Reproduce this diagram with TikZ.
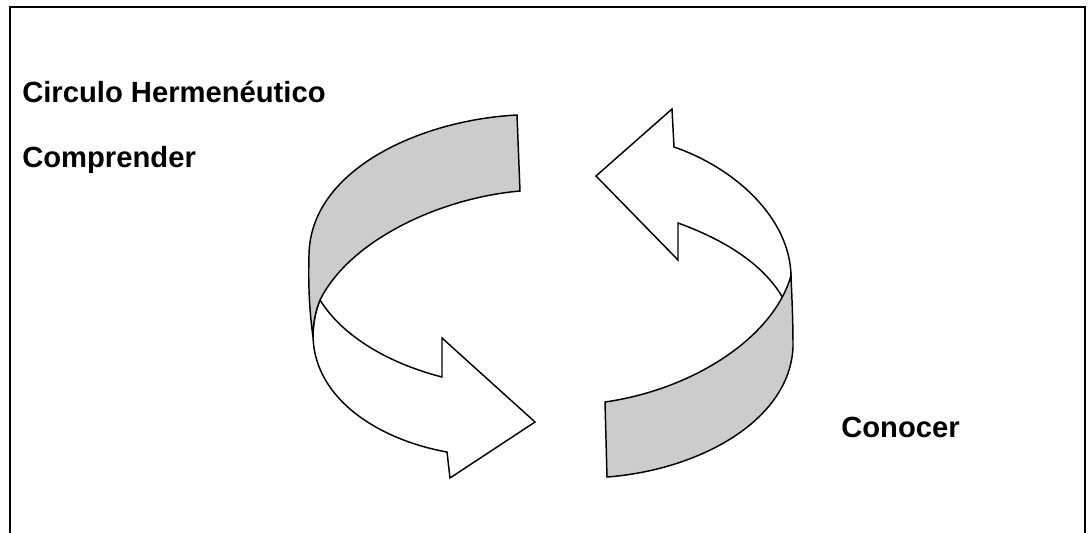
\documentclass[tikz,border=0pt]{standalone}
\usepackage{fontspec}
\setmainfont{Liberation Sans}
\definecolor{ribbon}{RGB}{204,204,204}
\begin{document}
\begin{tikzpicture}[x=0.75pt,y=-0.75pt,
  band/.style={draw=black,line width=1.1pt,line join=miter},
  backband/.style={band,fill=ribbon},
  frontband/.style={band,fill=white},
  frameline/.style={draw=black,line width=1.5pt},
  label/.style={font=\bfseries\fontsize{21.9}{26}\selectfont,anchor=base west,inner sep=0pt}]
\useasboundingbox (0,0) rectangle (1088,532);
\fill[white] (0,0) rectangle (1088,532);
% frame (bottom edge outside the picture)
\draw[frameline] (10,545) -- (10,7) -- (1085,7) -- (1085,545);
% labels
\node[label] (title) at (22,102) {Circulo Hermenéutico};
\node[label] (comp) at (22,167) {Comprender};
\node[label] (cono) at (841,437) {Conocer};
% left arrow: white front part
\draw[frontband] (320,300) .. controls (345,340) and (395,365) .. (442,377)
  -- (442,338) -- (535,422) -- (450,478) -- (447,452)
  .. controls (380,440) and (315,400) .. (313,337)
  .. controls (313,325) and (315,312) .. (320,300) -- cycle;
% left arrow: grey back part
\draw[backband] (517,115) .. controls (420,120) and (310,170) .. (309,255)
  .. controls (308,290) and (310,315) .. (313,337)
  .. controls (313,325) and (315,312) .. (320,300)
  .. controls (350,240) and (440,198) .. (520,191) -- cycle;
% right arrow: white front part
\draw[frontband] (596,176) -- (672,109) -- (674,147)
  .. controls (735,168) and (790,218) .. (791,276)
  .. controls (789,285) and (787,293) .. (784,300)
  .. controls (765,265) and (725,240) .. (678,223)
  -- (678,260) -- cycle;
% right arrow: grey back part
\draw[backband] (791,276) .. controls (772,340) and (690,390) .. (605,402)
  -- (607,477) .. controls (700,470) and (790,420) .. (793,347)
  .. controls (793,320) and (792,300) .. (791,276) -- cycle;
\end{tikzpicture}
\end{document}
